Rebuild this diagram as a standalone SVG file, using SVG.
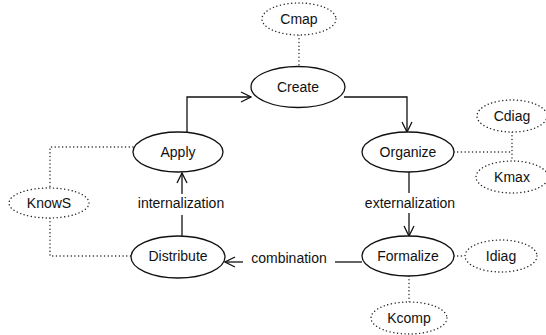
<svg xmlns="http://www.w3.org/2000/svg" width="546" height="335" viewBox="0 0 546 335">
<style>
.n{fill:#fff;stroke:#111;stroke-width:1.3}
.d{fill:#fff;stroke:#222;stroke-width:1.4;stroke-dasharray:0.1 3.6;stroke-linecap:round}
.t{font-family:"Liberation Sans",Arial,sans-serif;font-size:14px;fill:#111;text-anchor:middle}
.c{fill:none;stroke:#111;stroke-width:1.3}
.dl{fill:none;stroke:#222;stroke-width:1.4;stroke-dasharray:0.1 3.6;stroke-linecap:round}
</style>
<defs>
<marker id="a" markerWidth="12" markerHeight="12" refX="11" refY="6" orient="auto" markerUnits="userSpaceOnUse">
<path d="M1,1 L11,6 L1,11" fill="none" stroke="#111" stroke-width="1.3"/>
</marker>
</defs>
<g id="connectors">
<path class="c" d="M187,132 V97 H251" marker-end="url(#a)"/>
<path class="c" d="M344,97 H407 V132" marker-end="url(#a)"/>
<path class="c" d="M182,236 V215"/>
<path class="c" d="M182,194 V173" marker-end="url(#a)"/>
<path class="c" d="M409,172 V193"/>
<path class="c" d="M409,213 V236" marker-end="url(#a)"/>
<path class="c" d="M362,262 H335"/>
<path class="c" d="M243,262 H225" marker-end="url(#a)"/>
<path class="dl" d="M299,35 V66"/>
<path class="dl" d="M133,147 H50 V188"/>
<path class="dl" d="M50,218 V256 H131"/>
<path class="dl" d="M454,152 H512"/>
<path class="dl" d="M512,132 V161"/>
<path class="dl" d="M454,256 H465"/>
<path class="dl" d="M409,276 V302"/>
<text class="t" x="181" y="208">internalization</text>
<text class="t" x="410" y="208">externalization</text>
<text class="t" x="289" y="263">combination</text>
</g>
<g id="Cmap"><ellipse class="d" cx="299" cy="19" rx="37" ry="16"/><text class="t" x="299" y="24">Cmap</text></g>
<g id="Create"><ellipse class="n" cx="298" cy="87" rx="47" ry="20.5"/><text class="t" x="298" y="92">Create</text></g>
<g id="Apply"><ellipse class="n" cx="178" cy="152" rx="45" ry="20"/><text class="t" x="178" y="157">Apply</text></g>
<g id="Organize"><ellipse class="n" cx="408" cy="152" rx="46" ry="20"/><text class="t" x="408" y="157">Organize</text></g>
<g id="Cdiag"><ellipse class="d" cx="512" cy="116" rx="35" ry="16"/><text class="t" x="512" y="121">Cdiag</text></g>
<g id="Kmax"><ellipse class="d" cx="512" cy="177" rx="36" ry="16"/><text class="t" x="512" y="182">Kmax</text></g>
<g id="KnowS"><ellipse class="d" cx="49" cy="203" rx="40" ry="15"/><text class="t" x="49" y="208">KnowS</text></g>
<g id="Distribute"><ellipse class="n" cx="178" cy="257" rx="47" ry="21"/><text class="t" x="178" y="261">Distribute</text></g>
<g id="Formalize"><ellipse class="n" cx="408" cy="256" rx="46" ry="20"/><text class="t" x="408" y="261">Formalize</text></g>
<g id="Idiag"><ellipse class="d" cx="501" cy="256" rx="36" ry="16"/><text class="t" x="501" y="261">Idiag</text></g>
<g id="Kcomp"><ellipse class="d" cx="409" cy="318" rx="38" ry="16"/><text class="t" x="409" y="323">Kcomp</text></g>
</svg>
